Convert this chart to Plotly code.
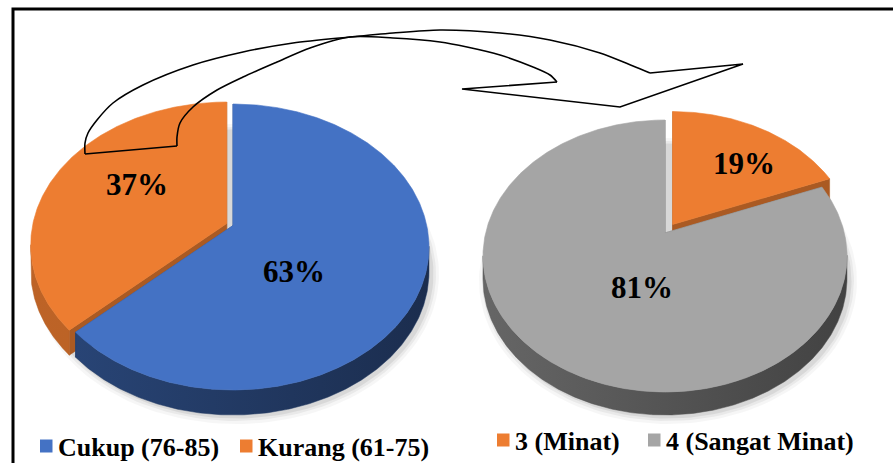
import numpy as np
import plotly.graph_objects as go

W, H = 893, 463

# ---- data -------------------------------------------------------------
left_labels = ["Cukup (76-85)", "Kurang (61-75)"]
left_values = [63, 37]
left_colors = ["#4472C4", "#ED7D31"]

right_labels = ["3 (Minat)", "4 (Sangat Minat)"]
right_values = [19, 81]
right_colors = ["#ED7D31", "#A5A5A5"]

# ---- styling / geometry of the two 3-D pies -----------------------------
PIES = [
    dict(values=left_values, colors=left_colors, explode=[0.0, 0.035],
         cx=233, cy=247, rx=196, ry=143, v=0.15, depth=25,
         wall=[(0.62, 0.40), (0.80, 0.74)],
         label_nudge=[(13, 6), (7, -23)]),
    dict(values=right_values, colors=right_colors, explode=[0.075, 0.0],
         cx=665, cy=256, rx=182, ry=136, v=0.17, depth=23,
         wall=[(0.70, 0.62), (0.62, 0.40)],
         label_nudge=[(13, -2), (-13, 18)]),
]
SERIF = "Liberation Serif, Times New Roman, serif"


def hex_rgb(c):
    c = c.lstrip("#")
    return tuple(int(c[i:i + 2], 16) for i in (0, 2, 4))


def shade(c, f):
    r, g, b = hex_rgb(c)
    return "rgb(%d,%d,%d)" % (r * f, g * f, b * f)


def project(theta_deg, v, r=1.0):
    """Perspective view of a point on a tilted disc (angle clockwise from 12 o'clock)."""
    t = np.radians(theta_deg)
    x, y = r * np.sin(t), r * np.cos(t)
    d = 1 + v * y
    return x * np.sqrt(1 - v * v) / d, (y + v) / d


def centroid(xs, ys):
    xs, ys = np.asarray(xs), np.asarray(ys)
    x1, y1 = np.roll(xs, -1), np.roll(ys, -1)
    cr = xs * y1 - x1 * ys
    a = cr.sum() / 2
    return ((xs + x1) * cr).sum() / (6 * a), ((ys + y1) * cr).sum() / (6 * a)


fig = go.Figure()


def poly(xs, ys, color, lw=0.6, grad=None):
    kw = dict(fillcolor=color)
    if grad is not None:
        kw = dict(fillgradient=dict(type="horizontal",
                                    colorscale=[[0, grad[0]], [1, grad[1]]]))
    fig.add_trace(go.Scatter(
        x=list(xs) + [xs[0]], y=list(ys) + [ys[0]], mode="lines",
        fill="toself", line=dict(color=color, width=lw),
        hoverinfo="skip", showlegend=False, **kw))


labels = []
for p in PIES:
    cx, cy, rx, ry, v, dep = p["cx"], p["cy"], p["rx"], p["ry"], p["v"], p["depth"]

    # soft drop shadow under the base
    tt = np.linspace(0, 360, 181)
    for k, a in [(7, 0.035), (4, 0.05), (1.5, 0.07)]:
        sx, sy = project(tt, v)
        poly(cx + 3 + (rx + k) * sx, cy + dep + 2 - (ry + k) * sy,
             "rgba(0,0,0,%.3f)" % a, lw=0)

    total = sum(p["values"])
    walls, tops = [], []
    start = 0.0
    for i, val in enumerate(p["values"]):
        a0, a1 = start, start + 360.0 * val / total
        start = a1
        mid = np.radians((a0 + a1) / 2)
        e = p["explode"][i]
        ox, oy = rx * e * np.sin(mid), -ry * e * np.cos(mid)
        col = p["colors"][i]

        ang = np.linspace(a0, a1, max(int((a1 - a0) / 0.5), 8))
        px, py = project(ang, v)
        X = cx + ox + rx * px
        Y = cy + oy - ry * py
        vx, vy = project(0, v, 0.0)
        VX, VY = cx + ox + rx * vx, cy + oy - ry * vy

        # outer side wall (front half only), light on the left, dark on the right
        lo, hi = p["wall"][i]
        front = np.where(py <= 0.01)[0]
        if len(front) > 1:
            seg = slice(front[0], front[-1] + 1)
            bx = list(X[seg]) + list(X[seg][::-1])
            by = list(Y[seg]) + list((Y[seg] + dep)[::-1])
            xl, xr = px[seg].min(), px[seg].max()
            c_l = shade(col, lo + (hi - lo) * (xl + 1) / 2)
            c_r = shade(col, lo + (hi - lo) * (xr + 1) / 2)
            walls.append((np.mean(by), bx, by, shade(col, (lo + hi) / 2), (c_l, c_r)))

        # radial cut faces
        for (ex, ey) in [(X[0], Y[0]), (X[-1], Y[-1])]:
            wx = [VX, ex, ex, VX]
            wy = [VY, ey, ey + dep, VY + dep]
            walls.append((np.mean(wy) - 30, wx, wy, shade(col, 0.72), None))

        tx = [VX] + list(X)
        ty = [VY] + list(Y)
        tops.append((tx, ty, col))
        gx, gy = centroid(tx, ty)
        nx, ny = p["label_nudge"][i]
        labels.append(((gx + nx, gy + ny), val))

    for _, wx, wy, c, g in sorted(walls, key=lambda w: w[0]):
        poly(wx, wy, c, lw=0.5, grad=g)
    for tx, ty, c in tops:
        poly(tx, ty, c)

# percentage labels
annotations = []
for (lx, ly), val in labels:
    annotations.append(dict(
        x=lx, y=ly, xref="x", yref="y", text="<b>%d%%</b>" % val,
        showarrow=False, font=dict(family=SERIF, size=31, color="black")))

# curved block arrow linking the two charts
arrow_outer = [(85, 154), (85, 143), (88, 133), (97, 120), (113, 103), (143, 85),
               (193, 65), (243, 52), (293, 43), (350, 37), (393, 33), (440, 30),
               (500, 33), (550, 40), (600, 53), (633, 66), (650, 73)]
arrow_inner = [(177, 146), (177, 137), (180, 123), (193, 107), (217, 90), (243, 77),
               (277, 62), (310, 48), (350, 37), (393, 38), (440, 42), (467, 47),
               (500, 55), (533, 67), (550, 75), (557, 82)]
arrow_head = [(650, 73), (743, 64), (620, 107), (462, 89), (557, 82)]
arrow_tail = [(85, 154), (177, 146)]
for pts, shp in [(arrow_outer, "spline"), (arrow_inner, "spline"),
                 (arrow_head, "linear"), (arrow_tail, "linear")]:
    fig.add_trace(go.Scatter(
        x=[q[0] for q in pts], y=[q[1] for q in pts], mode="lines",
        line=dict(color="black", width=1.6, shape=shp, smoothing=0.8),
        hoverinfo="skip", showlegend=False))

# legends under each chart
legend_rows = [
    (left_labels, left_colors, [40, 240], 446),
    (right_labels, right_colors, [497, 648], 440),
]
shapes = [dict(type="rect", xref="x", yref="y", x0=13, y0=9, x1=W + 20, y1=H + 20,
               line=dict(color="black", width=3), fillcolor="rgba(0,0,0,0)")]
for names, cols, xs, yc in legend_rows:
    for name, col, x0 in zip(names, cols, xs):
        shapes.append(dict(type="rect", xref="x", yref="y", x0=x0, x1=x0 + 12.5,
                           y0=yc - 6.5, y1=yc + 6.5, fillcolor=col, line=dict(width=0)))
        annotations.append(dict(
            x=x0 + 16, y=yc + 1, xref="x", yref="y", xanchor="left", yanchor="middle",
            text="<b>%s</b>" % name, showarrow=False,
            font=dict(family=SERIF, size=26, color="black")))

fig.update_layout(
    width=W, height=H, margin=dict(l=0, r=0, t=0, b=0),
    paper_bgcolor="white", plot_bgcolor="white",
    xaxis=dict(range=[0, W], visible=False, fixedrange=True),
    yaxis=dict(range=[H, 0], visible=False, fixedrange=True),
    shapes=shapes, annotations=annotations, showlegend=False,
)
fig.write_html("out.html", config={"displayModeBar": False})
